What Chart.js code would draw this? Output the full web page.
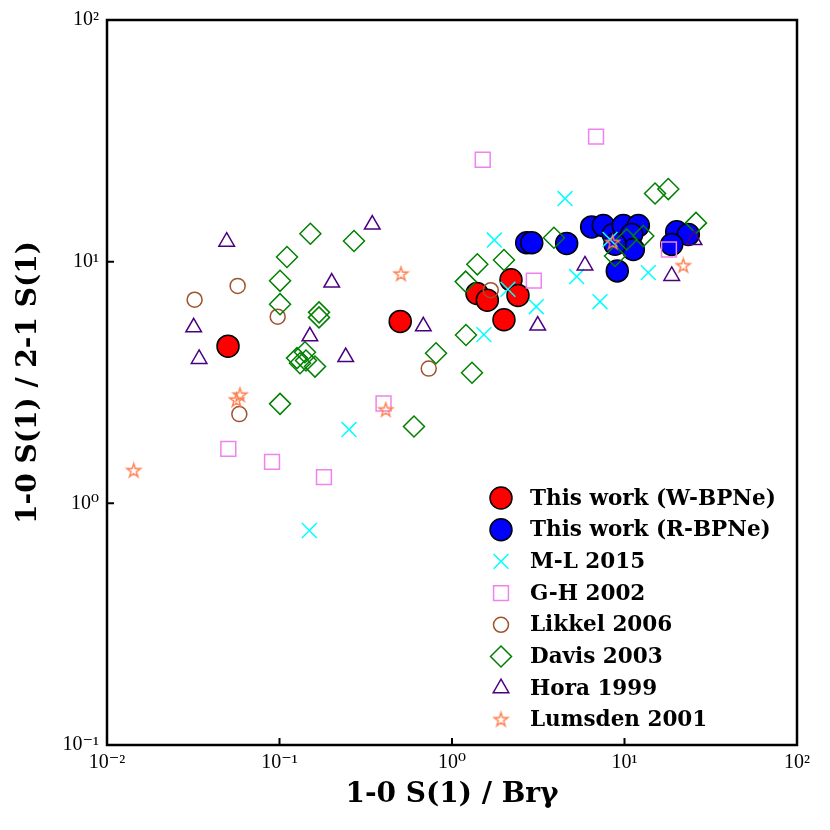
<!DOCTYPE html>
<html>
<head>
<meta charset="utf-8">
<script src="https://cdn.jsdelivr.net/npm/chart.js@4"></script>
<style>
  html, body { margin: 0; padding: 0; background: #fff; }
  #wrap { width: 830px; height: 830px; }
</style>
</head>
<body>
<div id="wrap"><canvas id="lineRatioChart"></canvas></div>
<script>
// 1-0 S(1)/Brγ (x) vs 1-0 S(1)/2-1 S(1) (y)
const wbpneX = [0.0503, 0.501, 1.396, 1.602, 2.198, 2.413, 2.001];
const wbpneY = [4.47, 5.66, 7.38, 6.93, 8.41, 7.25, 5.75];

const rbpneX = [2.71, 2.90, 4.62, 6.45, 7.54, 8.61, 9.84, 12.03, 11.0, 11.25, 9.08, 8.81, 20.07, 23.44, 18.78];
const rbpneY = [11.97, 11.97, 11.9, 13.93, 14.1, 12.95, 14.1, 14.1, 12.95, 11.23, 9.16, 11.8, 13.29, 12.95, 11.78];

const ml2015X = [4.52, 1.76, 2.11, 3.08, 1.53, 5.28, 8.24, 7.21, 13.74, 0.253, 0.149];
const ml2015Y = [18.25, 12.29, 7.69, 6.51, 4.99, 8.68, 12.36, 6.83, 9.01, 2.02, 0.772];

const gh2002X = [6.84, 1.507, 2.98, 18.1, 0.401, 0.0505, 0.0905, 0.181];
const gh2002Y = [32.9, 26.4, 8.35, 11.23, 2.59, 1.68, 1.485, 1.283];

const likkelX = [0.0572, 0.0322, 0.0976, 0.0585, 0.733, 1.677];
const likkelY = [7.94, 6.96, 5.92, 2.34, 3.61, 7.62];

const davisX = [0.151, 0.1105, 0.1007, 0.1007, 0.1695, 0.1695, 0.1263, 0.1405, 0.1424, 0.1315, 0.1606, 0.1007,
  0.2703, 1.20, 1.402, 2.001, 1.205, 0.808, 1.306, 0.602, 3.90, 15.03, 17.94, 25.97, 10.3, 12.85, 8.81];
const davisY = [13.04, 10.45, 8.33, 6.67, 6.17, 5.88, 3.99, 4.22, 3.90, 3.80, 3.68, 2.58,
  12.17, 8.27, 9.75, 10.16, 4.97, 4.18, 3.47, 2.08, 12.56, 19.14, 19.97, 14.47, 12.36, 12.76, 10.56];

const hora1999X = [0.0494, 0.0318, 0.0342, 0.150, 0.2008, 0.242, 0.345, 0.682, 3.14, 5.90, 18.78, 25.29];
const hora1999Y = [12.09, 5.35, 3.96, 4.91, 8.19, 4.03, 14.24, 5.40, 5.44, 9.65, 8.73, 12.29];

const lumsdenX = [0.01428, 0.059, 0.0563, 0.506, 0.413, 8.54, 21.92];
const lumsdenY = [1.363, 2.80, 2.67, 8.87, 2.43, 11.97, 9.60];

const xTicks = [0.01, 0.1, 1, 10, 100];
const yTicks = [0.1, 1, 10, 100];
const sup = { '-': '⁻', '0': '⁰', '1': '¹', '2': '²' };

function pts(xs, ys) {
  return xs.map((x, i) => ({ x: x, y: ys[i] }));
}
function expLabel(v) {
  const e = String(Math.round(Math.log10(v)));
  return '10' + e.split('').map(c => sup[c]).join('');
}

// matplotlib style 5-point star outline
function makeStar(r, color) {
  const c = document.createElement('canvas');
  const s = Math.ceil(2 * r + 4);
  c.width = s; c.height = s;
  const g = c.getContext('2d');
  g.beginPath();
  for (let k = 0; k < 10; k++) {
    const rr = k % 2 === 0 ? r : r * 0.382;
    const a = -Math.PI / 2 + k * Math.PI / 5;
    const px = s / 2 + rr * Math.cos(a), py = s / 2 + rr * Math.sin(a);
    if (k === 0) g.moveTo(px, py); else g.lineTo(px, py);
  }
  g.closePath();
  g.strokeStyle = color;
  g.lineWidth = 1.4;
  g.stroke();
  return c;
}
const starIcon = makeStar(7.2, '#ff7f50');

const serifBold = "'DejaVu Serif', serif";
const tickFont = { family: "'Liberation Serif', 'DejaVu Serif', serif", size: 20 };

const datasets = [
  { label: 'This work (W-BPNe)', data: pts(wbpneX, wbpneY), pointStyle: 'circle', pointRadius: 11,
    backgroundColor: '#ff0000', borderColor: '#000000', pointBorderWidth: 1.5, order: 8 },
  { label: 'This work (R-BPNe)', data: pts(rbpneX, rbpneY), pointStyle: 'circle', pointRadius: 11,
    backgroundColor: '#0000ff', borderColor: '#000000', pointBorderWidth: 1.5, order: 7 },
  { label: 'M-L 2015', data: pts(ml2015X, ml2015Y), pointStyle: 'crossRot', pointRadius: 10.5,
    backgroundColor: 'rgba(0,0,0,0)', borderColor: '#00ffff', pointBorderWidth: 1.5, order: 6 },
  { label: 'G-H 2002', data: pts(gh2002X, gh2002Y), pointStyle: 'rect', pointRadius: 10.5,
    backgroundColor: 'rgba(0,0,0,0)', borderColor: '#ee82ee', pointBorderWidth: 1.5, order: 5 },
  { label: 'Likkel 2006', data: pts(likkelX, likkelY), pointStyle: 'circle', pointRadius: 7.5,
    backgroundColor: 'rgba(0,0,0,0)', borderColor: '#a0522d', pointBorderWidth: 1.5, order: 4 },
  { label: 'Davis 2003', data: pts(davisX, davisY), pointStyle: 'rectRot', pointRadius: 10.5,
    backgroundColor: 'rgba(0,0,0,0)', borderColor: '#008000', pointBorderWidth: 1.5, order: 3 },
  { label: 'Hora 1999', data: pts(hora1999X, hora1999Y), pointStyle: 'triangle', pointRadius: 9,
    backgroundColor: 'rgba(0,0,0,0)', borderColor: '#4b0082', pointBorderWidth: 1.5, order: 2 },
  { label: 'Lumsden 2001', data: pts(lumsdenX, lumsdenY), pointStyle: starIcon, pointRadius: 7.2,
    backgroundColor: 'rgba(0,0,0,0)', borderColor: '#ff7f50', pointBorderWidth: 1.4, order: 1 }
];

// frame + inward ticks on the bottom and left axes
const framePlugin = {
  id: 'frame',
  afterDraw(chart) {
    const { ctx, chartArea: a, scales } = chart;
    ctx.save();
    ctx.strokeStyle = '#000';
    ctx.lineWidth = 2;
    ctx.beginPath();
    xTicks.forEach(v => {
      const px = scales.x.getPixelForValue(v);
      ctx.moveTo(px, a.bottom); ctx.lineTo(px, a.bottom - 7);
    });
    yTicks.forEach(v => {
      const py = scales.y.getPixelForValue(v);
      ctx.moveTo(a.left, py); ctx.lineTo(a.left + 7, py);
    });
    ctx.stroke();
    ctx.lineWidth = 2.5;
    ctx.strokeRect(a.left, a.top, a.right - a.left, a.bottom - a.top);
    ctx.restore();
  }
};

// legend inside the lower right of the plot
const legendPlugin = {
  id: 'innerLegend',
  afterDraw(chart) {
    const { ctx, chartArea: a } = chart;
    const mx = a.left + 394, tx = a.left + 423;
    let y = a.top + 478;
    const step = 31.7;
    ctx.save();
    ctx.font = 'bold 21.5px ' + serifBold;
    ctx.textBaseline = 'middle';
    chart.data.datasets.forEach(ds => {
      ctx.strokeStyle = ds.borderColor;
      ctx.fillStyle = ds.backgroundColor;
      ctx.lineWidth = ds.pointBorderWidth;
      Chart.helpers.drawPoint(ctx, {
        pointStyle: ds.pointStyle, radius: ds.pointRadius, borderWidth: ds.pointBorderWidth, rotation: 0
      }, mx, y);
      ctx.fillStyle = '#000';
      ctx.fillText(ds.label, tx, y + 1);
      y += step;
    });
    ctx.restore();
  }
};

new Chart(document.getElementById('lineRatioChart'), {
  type: 'scatter',
  data: { datasets: datasets },
  options: {
    responsive: true,
    maintainAspectRatio: false,
    animation: false,
    layout: { padding: { left: 0, top: 16, right: 33, bottom: 0 } },
    plugins: { legend: { display: false }, tooltip: { enabled: false } },
    scales: {
      x: {
        type: 'logarithmic',
        min: 0.01, max: 100,
        afterBuildTicks: s => { s.ticks = xTicks.map(v => ({ value: v })); },
        afterFit: s => { s.height = 85; },
        grid: { display: false, drawTicks: false },
        border: { display: false },
        ticks: { color: '#000', font: tickFont, padding: 6, maxRotation: 0, autoSkip: false,
          callback: v => expLabel(v) },
        title: { display: true, text: '1-0 S(1) / Brγ', color: '#000',
          font: { family: serifBold, size: 28, weight: 'bold' }, padding: { bottom: 18 } }
      },
      y: {
        type: 'logarithmic',
        min: 0.1, max: 100,
        afterBuildTicks: s => { s.ticks = yTicks.map(v => ({ value: v })); },
        afterFit: s => { s.width = 107; },
        grid: { display: false, drawTicks: false },
        border: { display: false },
        ticks: { color: '#000', font: tickFont, padding: 8, autoSkip: false,
          callback: v => expLabel(v) },
        title: { display: true, text: '1-0 S(1) / 2-1 S(1)', color: '#000',
          font: { family: serifBold, size: 28, weight: 'bold' }, padding: { top: 12 } }
      }
    }
  },
  plugins: [framePlugin, legendPlugin]
});
</script>
</body>
</html>
